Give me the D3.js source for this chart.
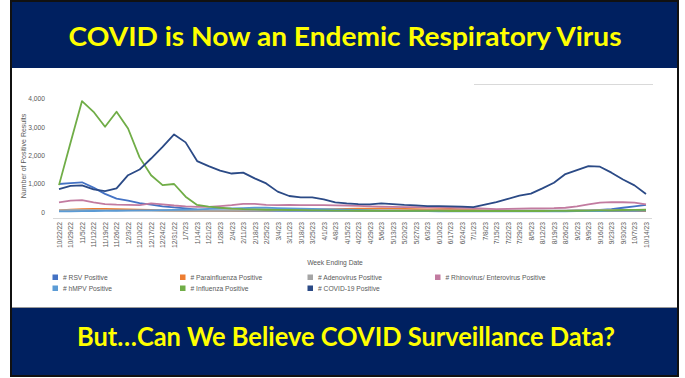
<!DOCTYPE html>
<html><head><meta charset="utf-8">
<script src="https://cdn.jsdelivr.net/npm/d3@7"></script>
<style>html,body{margin:0;padding:0;background:#fff;}svg{display:block;}</style>
</head><body>
<svg id="c" width="685" height="378"></svg>
<script>
const weeks = ["10/22/22","10/29/22","11/5/22","11/12/22","11/19/22","11/26/22","12/3/22","12/10/22","12/17/22","12/24/22","12/31/22","1/7/23","1/14/23","1/21/23","1/28/23","2/4/23","2/11/23","2/18/23","2/25/23","3/4/23","3/11/23","3/18/23","3/25/23","4/1/23","4/8/23","4/15/23","4/22/23","4/29/23","5/6/23","5/13/23","5/20/23","5/27/23","6/3/23","6/10/23","6/17/23","6/24/23","7/1/23","7/8/23","7/15/23","7/22/23","7/29/23","8/5/23","8/12/23","8/19/23","8/26/23","9/2/23","9/9/23","9/16/23","9/23/23","9/30/23","10/7/23","10/14/23"];

const rsv = [990,1020,1050,860,640,470,400,310,260,200,160,130,80,60,50,45,40,40,40,40,40,40,40,40,40,40,40,40,40,40,40,40,35,35,35,35,35,35,35,35,35,35,35,35,40,45,50,70,105,150,200,250];
const parainfluenza = [60,80,100,110,110,100,90,80,70,60,50,45,40,40,40,45,50,55,60,65,70,75,80,90,100,110,115,120,130,120,110,100,95,100,110,90,70,55,45,40,35,30,30,30,30,30,30,30,30,30,30,30];
const adenovirus = [60,70,75,70,65,60,55,50,50,45,45,45,45,45,45,45,50,50,50,55,55,55,55,55,55,55,55,55,55,55,55,55,55,55,55,55,55,55,55,55,55,55,60,60,60,65,65,70,70,70,70,70];
const rhinovirus = [340,400,420,340,280,260,250,240,305,270,230,200,180,180,210,240,290,290,250,240,250,245,245,240,235,230,215,200,190,180,175,170,165,160,155,150,140,120,105,110,120,130,130,135,150,200,270,330,350,345,330,270];
const hmpv = [20,25,30,35,40,45,50,55,60,65,75,85,95,110,120,130,140,150,150,140,130,120,110,100,90,80,70,60,50,45,40,35,30,25,25,20,20,20,20,20,20,20,20,25,25,30,30,35,40,40,45,50];
const influenza = [950,2450,3920,3540,3010,3540,2950,1930,1300,950,990,540,250,190,150,120,100,90,80,75,70,65,60,55,50,50,45,45,40,40,40,40,40,40,35,35,35,35,35,35,35,35,35,40,40,45,50,55,60,70,75,80];
const covid = [810,920,940,800,740,835,1300,1500,1890,2300,2740,2460,1800,1620,1460,1360,1390,1190,1010,720,565,520,520,450,340,305,280,270,305,280,250,235,210,210,200,190,175,260,350,460,575,650,835,1035,1340,1480,1620,1600,1390,1150,940,635];

const yTicks = [0,1000,2000,3000,4000];
const seriesNames = ["# RSV Positive","# Parainfluenza Positive","# Adenovirus Positive","# Rhinovirus/ Enterovirus Positive","# hMPV Positive","# Influenza Positive","# COVID-19 Positive"];
const seriesColors = ["#4472c4","#ed7d31","#a5a5a5","#c27ba0","#5b9bd5","#70ad47","#2b4a86"];
const seriesValues = [rsv,parainfluenza,adenovirus,rhinovirus,hmpv,influenza,covid];
const titleTop = "COVID is Now an Endemic Respiratory Virus";
const titleBottom = "But…Can We Believe COVID Surveillance Data?";

const svg = d3.select("#c");
const font = "'Liberation Sans', Arial, sans-serif";
const grey = "#595959";

svg.append("rect").attr("width",685).attr("height",378).attr("fill","#fff");
// slide frame and banners
svg.append("rect").attr("x",11).attr("y",1).attr("width",667).attr("height",375)
  .attr("fill","#fff").attr("stroke","#111").attr("stroke-width",2);
svg.append("rect").attr("x",12).attr("y",2).attr("width",665).attr("height",66).attr("fill","#002060");
svg.append("rect").attr("x",12).attr("y",308).attr("width",665).attr("height",67).attr("fill","#002060");
svg.append("line").attr("x1",12).attr("x2",677).attr("y1",307.5).attr("y2",307.5).attr("stroke","#9a9a9a").attr("stroke-width",1);

svg.append("text").text(titleTop).attr("x",345).attr("y",46).attr("text-anchor","middle")
  .attr("font-family","Lato, 'Open Sans', sans-serif").attr("font-weight","bold").attr("font-size",26)
  .attr("fill","#ffff00").attr("textLength",553).attr("lengthAdjust","spacingAndGlyphs");
svg.append("text").text(titleBottom).attr("x",346).attr("y",346).attr("text-anchor","middle")
  .attr("font-family","Lato, 'Open Sans', sans-serif").attr("font-weight","bold").attr("font-size",26)
  .attr("fill","#ffff00").attr("textLength",538).attr("lengthAdjust","spacingAndGlyphs");

// chart
const x = d3.scalePoint().domain(weeks).range([59,646]);
const y = d3.scaleLinear().domain([0,4000]).range([212,98.8]);

svg.append("line").attr("x1",474).attr("x2",653).attr("y1",84.5).attr("y2",84.5).attr("stroke","#d9d9d9");
svg.append("line").attr("x1",53).attr("x2",652).attr("y1",Math.round(y(-200))+0.5).attr("y2",Math.round(y(-200))+0.5)
  .attr("stroke","#d9d9d9").attr("stroke-width",1);

const yAxis = svg.append("g").attr("transform","translate(45,0)")
  .call(d3.axisLeft(y).tickValues(yTicks).tickSize(0).tickPadding(0).tickFormat(d3.format(",")));
yAxis.select(".domain").remove();
yAxis.selectAll("text").attr("font-family",font).attr("font-size",6.7).attr("fill",grey);

const xAxis = svg.append("g").attr("transform","translate(0,219)")
  .call(d3.axisBottom(x).tickSize(0).tickPadding(0));
xAxis.select(".domain").remove();
xAxis.selectAll("text").attr("font-family",font).attr("font-size",6.7).attr("fill",grey)
  .attr("text-anchor","end").attr("dy","0.35em").attr("transform","translate(0,3) rotate(-90)");

svg.append("text").text("Number of Positive Results").attr("transform","translate(26,156) rotate(-90)")
  .attr("text-anchor","middle").attr("font-family",font).attr("font-size",7).attr("fill",grey);
svg.append("text").text("Week Ending Date").attr("x",335).attr("y",264.5)
  .attr("text-anchor","middle").attr("font-family",font).attr("font-size",6.7).attr("fill",grey);

const line = d3.line().x((d,i)=>x(weeks[i])).y(d=>y(d));
seriesValues.forEach((vals,k)=>{
  svg.append("path").datum(vals).attr("d",line).attr("fill","none")
    .attr("stroke",seriesColors[k]).attr("stroke-width",1.8).attr("stroke-linejoin","round");
});

// legend
const legPos = [[52.5,277.5],[180,277.5],[307.5,277.5],[435,277.5],[52.5,288.5],[180,288.5],[307.5,288.5]];
const legOrder = [0,1,2,3,4,5,6];
legOrder.forEach((k,j)=>{
  const [lx,ly] = legPos[j];
  svg.append("rect").attr("x",lx).attr("y",ly-3).attr("width",5.5).attr("height",5.5).attr("fill",seriesColors[k]);
  svg.append("text").text(seriesNames[k]).attr("x",lx+10.5).attr("y",ly+2.3)
    .attr("font-family",font).attr("font-size",6.7).attr("fill",grey);
});
</script>
</body></html>
